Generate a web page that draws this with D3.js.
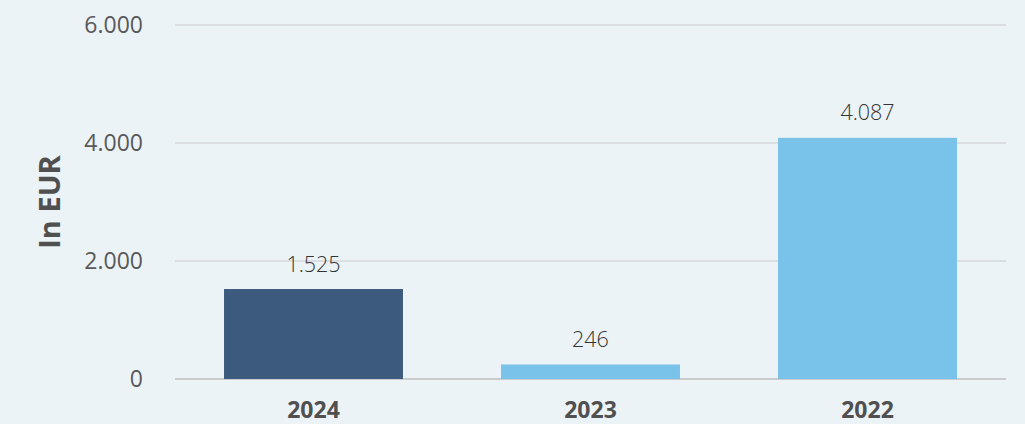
<!DOCTYPE html>
<html>
<head>
<meta charset="utf-8">
<script src="https://cdn.jsdelivr.net/npm/d3@7"></script>
<style>
  html, body { margin: 0; padding: 0; background: #ecf3f7; }
  svg { display: block; font-family: "Open Sans", sans-serif; }
  .grid line { stroke: #d6d8da; stroke-width: 1.5; }
  .grid .zero { stroke: #c9cbcd; stroke-width: 2; }
</style>
</head>
<body>
<svg id="chart"></svg>
<script>
const years = ["2024", "2023", "2022"];
const values = [1525, 246, 4087];
const barColors = ["#3b5a7d", "#79c2ea", "#79c2ea"];
const yTicks = [0, 2000, 4000, 6000];

const width = 1025;
const height = 424;
const margin = { top: 25, right: 19, bottom: 45, left: 175 };

const fmt = (v) => d3.format(",")(v).replace(/,/g, ".");

const svg = d3.select("#chart").attr("width", width).attr("height", height);

const x = d3
  .scaleBand()
  .domain(years)
  .range([margin.left, width - margin.right])
  .paddingInner(0.354)
  .paddingOuter(0.177);

const y = d3
  .scaleLinear()
  .domain([0, 6000])
  .range([height - margin.bottom, margin.top]);

// gridlines
const grid = svg.append("g").attr("class", "grid");
grid
  .selectAll("line")
  .data(yTicks)
  .join("line")
  .attr("class", (d) => (d === 0 ? "zero" : null))
  .attr("x1", margin.left)
  .attr("x2", width - margin.right)
  .attr("y1", (d) => y(d))
  .attr("y2", (d) => y(d));

// y tick labels
svg
  .append("g")
  .selectAll("text")
  .data(yTicks)
  .join("text")
  .attr("x", 143)
  .attr("y", (d) => y(d))
  .attr("dy", "0.35em")
  .attr("text-anchor", "end")
  .attr("fill", "#595959")
  .style("font-size", "23px")
  .text((d) => fmt(d));

// y axis title
svg
  .append("text")
  .attr("transform", `translate(60,${(margin.top + height - margin.bottom) / 2}) rotate(-90)`)
  .attr("text-anchor", "middle")
  .attr("fill", "#505050")
  .style("font-size", "29px")
  .style("font-weight", "bold")
  .text("In EUR");

// bars
svg
  .append("g")
  .selectAll("rect")
  .data(values)
  .join("rect")
  .attr("x", (d, i) => x(years[i]))
  .attr("width", x.bandwidth())
  .attr("y", (d) => y(d))
  .attr("height", (d) => y(0) - y(d))
  .attr("fill", (d, i) => barColors[i]);

// value labels
svg
  .append("g")
  .selectAll("text")
  .data(values)
  .join("text")
  .attr("x", (d, i) => x(years[i]) + x.bandwidth() / 2)
  .attr("y", (d) => y(d) - 25)
  .attr("dy", "0.35em")
  .attr("text-anchor", "middle")
  .attr("fill", "#333")
  .style("font-size", "21.5px")
  .style("font-weight", "300")
  .text((d) => fmt(d));

// x labels
svg
  .append("g")
  .selectAll("text")
  .data(years)
  .join("text")
  .attr("x", (d) => x(d) + x.bandwidth() / 2)
  .attr("y", 410)
  .attr("dy", "0.35em")
  .attr("text-anchor", "middle")
  .attr("fill", "#505050")
  .style("font-size", "23px")
  .style("font-weight", "bold")
  .text((d) => d);
</script>
</body>
</html>
